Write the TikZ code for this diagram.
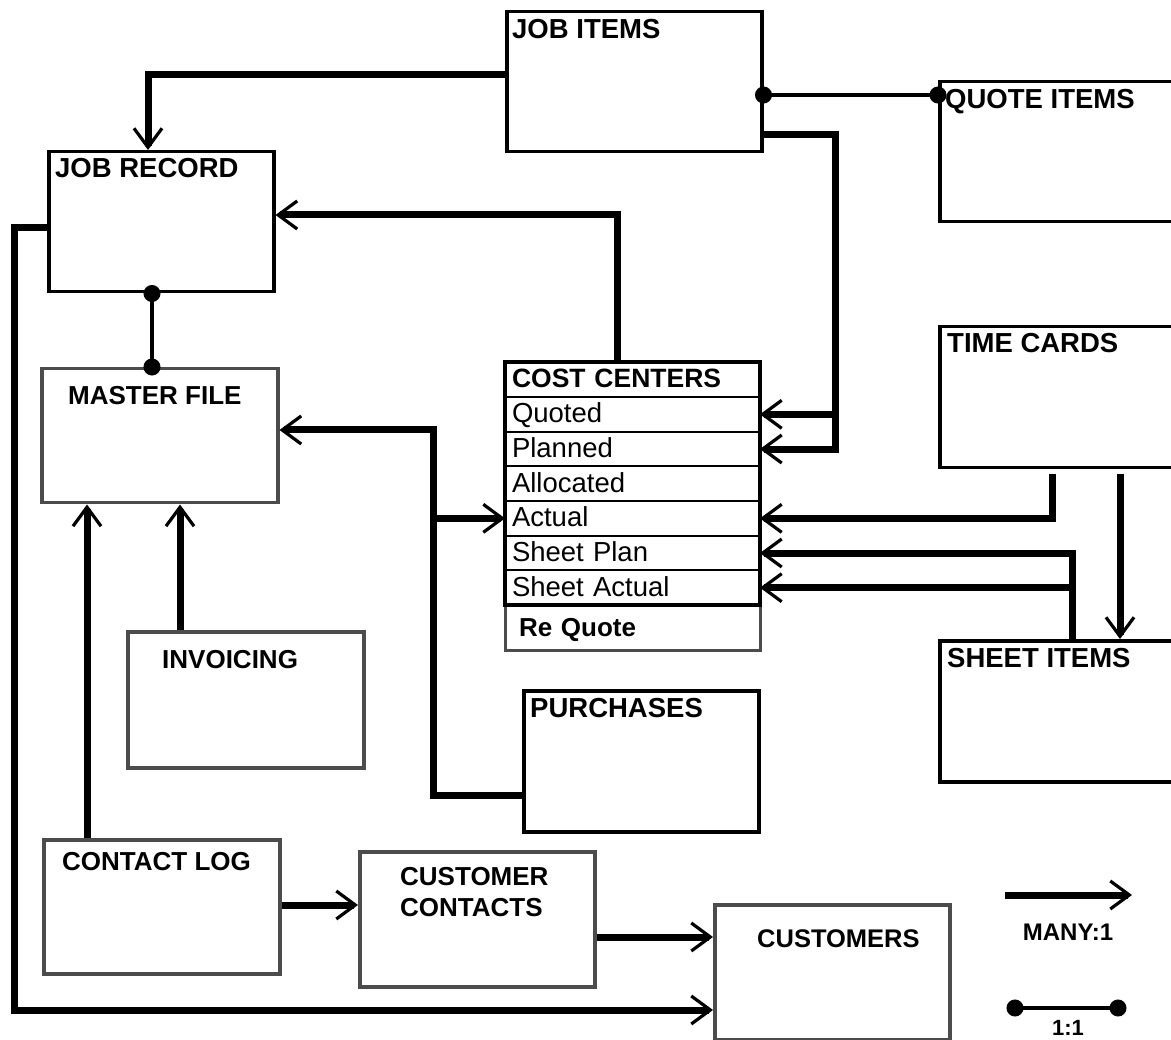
\documentclass[tikz,border=0pt]{standalone}
\usepackage{fontspec}
\setmainfont{Liberation Sans}
\usetikzlibrary{arrows.meta,positioning}
\tikzset{>/.tip={Straight Barb[length=19pt,width=28pt,line width=3.2pt]}}
\tikzset{dot/.tip={Circle[length=17pt]}}
\tikzset{
  box/.style={draw,line width=3.5pt,anchor=north west,inner sep=0pt},
  gbox/.style={box,draw=black!70},
  ttl/.style={anchor=base west,inner sep=0pt,font=\bfseries\fontsize{27.5}{31}\selectfont},
  row/.style={draw,line width=2pt,outer sep=0pt,minimum height=34.67pt,text width=241pt,
    inner xsep=7pt,inner ysep=0pt,align=left,text height=21pt,text depth=4pt,
    font=\fontsize{27.5}{30}\selectfont},
  many/.style={line width=7pt,->},
  one/.style={line width=3.5pt,dot-dot,shorten <=-8.5pt,shorten >=-8.5pt}
}

\begin{document}
\begin{tikzpicture}[x=1pt,y=-1pt]
        \clip (0,0) rectangle (1171,1040);
        \node[box,minimum width=255,minimum height=140](jobitems) at (505,10){};
        \node[box,minimum width=250,minimum height=140](quoteitems) at (938,80){};
        \node[box,minimum width=225,minimum height=140](jobrecord) at (47,150){};
        \node[gbox,minimum width=236,minimum height=134](masterfile) at (40,367){};
        \node[box,minimum width=250,minimum height=141](timecards) at (938,325){};
        \node[box,minimum width=250,minimum height=141](sheetitems) at (938,639){};
        \node[gbox,minimum width=236,minimum height=136](invoicing) at (126,630){};
        \node[box,minimum width=235,minimum height=141](purchases) at (522,689){};
        \node[gbox,minimum width=236,minimum height=134](contactlog) at (42,838){};
        \node[gbox,minimum width=235,minimum height=135](custcontacts) at (358,850){};
        \node[gbox,minimum width=235,minimum height=135](customers) at (713,903){};

        \node[row,anchor=north west,minimum height=35pt,font=\bfseries\fontsize{26.5}{30}\selectfont](cc) at (505,362){COST CENTERS};
        \node[row,below=0pt of cc](quoted){Quoted};
        \node[row,below=0pt of quoted](planned){Planned};
        \node[row,below=0pt of planned](allocated){Allocated};
        \node[row,below=0pt of allocated](actual){Actual};
        \node[row,below=0pt of actual](sheetplan){Sheet Plan};
        \node[row,below=0pt of sheetplan](sheetactual){Sheet Actual};
        \node[row,below=0pt of sheetactual,minimum height=45pt,draw=black!70,line width=3pt,
          inner xsep=14pt,text width=227pt,font=\bfseries\fontsize{26}{30}\selectfont](requote){Re Quote};
        \draw[line width=4pt] (cc.north west) rectangle (sheetactual.south east);

        \node[ttl](jobitemst) at (512,39){JOB ITEMS};
        \node[ttl](quoteitemst) at (945,109){QUOTE ITEMS};
        \node[ttl](jobrecordt) at (55,178){JOB RECORD};
        \node[ttl,font=\bfseries\fontsize{26}{31}\selectfont](masterfilet) at (68,405){MASTER FILE};
        \node[ttl](timecardst) at (947,353){TIME CARDS};
        \node[ttl](sheetitemst) at (947,667){SHEET ITEMS};
        \node[ttl,font=\bfseries\fontsize{26}{31}\selectfont](invoicingt) at (162,668){INVOICING};
        \node[ttl](purchasest) at (530,717){PURCHASES};
        \node[ttl,font=\bfseries\fontsize{26}{31}\selectfont](contactlogt) at (62,870){CONTACT LOG};
        \node[ttl,anchor=north west,align=left,font=\bfseries\fontsize{26}{31}\selectfont](custcontactst) at (400,867){CUSTOMER\\CONTACTS};
        \node[ttl,font=\bfseries\fontsize{25.5}{31}\selectfont](customerst) at (757,947){CUSTOMERS};

        \draw[many] (jobitems.west |- 0,75) -| (148,0 |- jobrecord.north);
        \draw[one] (jobitems.east |- 0,95) -- (quoteitems.west |- 0,95);
        \draw[many] (jobitems.east |- 0,135) -| (835,0 |- planned.east) -- (planned.east);
        \draw[many] (835,0 |- quoted.east) -- (quoted.east);
        \draw[many] (617,0 |- cc.north) |- (jobrecord.east |- 0,215);
        \draw[one] (152,0 |- jobrecord.south) -- (152,0 |- masterfile.north);
        \draw[many] (jobrecord.west |- 0,228) -- (14,228) -- (14,1010) -- (customers.west |- 0,1010);
        \draw[many] (purchases.west |- 0,795) -- (433,795) -- (433,430) -- (masterfile.east |- 0,430);
        \draw[many] (433,0 |- actual.west) -- (actual.west);
        \draw[many] (180,0 |- invoicing.north) -- (180,0 |- masterfile.south);
        \draw[many] (87,0 |- contactlog.north) -- (87,0 |- masterfile.south);
        \draw[many] (contactlog.east |- 0,905) -- (custcontacts.west |- 0,905);
        \draw[many] (custcontacts.east |- 0,937) -- (customers.west |- 0,937);
        \draw[many] (1052,474) |- (actual.east);
        \draw[many] (1120,474) -- (1120,0 |- sheetitems.north);
        \draw[many] (1072,0 |- sheetitems.north) |- (sheetplan.east);
        \draw[many] (1072,0 |- sheetactual.east) -- (sheetactual.east);

        \coordinate (manya) at (1005,895);
        \coordinate (manyb) at (1132,895);
        \draw[many] (manya) -- (manyb);
        \node[ttl,anchor=base,font=\bfseries\fontsize{24}{28}\selectfont](manyl) at (1068,940){MANY:1};
        \coordinate (onea) at (1015,1008);
        \coordinate (oneb) at (1118,1008);
        \draw[one] (onea) -- (oneb);
        \node[ttl,anchor=base,font=\bfseries\fontsize{22}{26}\selectfont](onel) at (1068,1035){1:1};
      \end{tikzpicture}
\end{document}
